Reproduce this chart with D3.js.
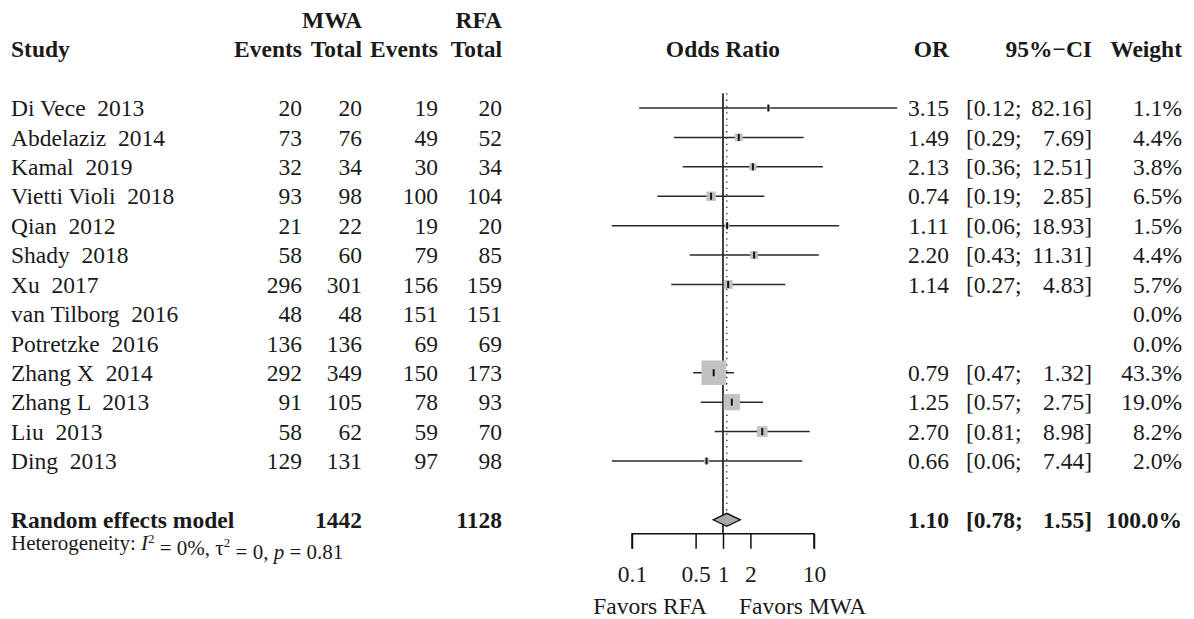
<!DOCTYPE html>
<html>
<head>
<meta charset="utf-8">
<script src="https://cdn.jsdelivr.net/npm/d3@7"></script>
<style>
  body { margin: 0; background: #fff; }
  svg text { font-family: "Liberation Serif", "Times New Roman", serif; fill: #1a1a1a; white-space: pre; }
</style>
</head>
<body>
<div id="chart"></div>
<script>
// --- data ---
const studies = ["Di Vece  2013", "Abdelaziz  2014", "Kamal  2019", "Vietti Violi  2018", "Qian  2012",
    "Shady  2018", "Xu  2017", "van Tilborg  2016", "Potretzke  2016", "Zhang X  2014",
    "Zhang L  2013", "Liu  2013", "Ding  2013"];
const mwaEvents = [20, 73, 32, 93, 21, 58, 296, 48, 136, 292, 91, 58, 129];
const mwaTotal = [20, 76, 34, 98, 22, 60, 301, 48, 136, 349, 105, 62, 131];
const rfaEvents = [19, 49, 30, 100, 19, 79, 156, 151, 69, 150, 78, 59, 97];
const rfaTotal = [20, 52, 34, 104, 20, 85, 159, 151, 69, 173, 93, 70, 98];
const oddsRatio = [3.15, 1.49, 2.13, 0.74, 1.11, 2.20, 1.14, null, null, 0.79, 1.25, 2.70, 0.66];
const ciLower = [0.12, 0.29, 0.36, 0.19, 0.06, 0.43, 0.27, null, null, 0.47, 0.57, 0.81, 0.06];
const ciUpper = [82.16, 7.69, 12.51, 2.85, 18.93, 11.31, 4.83, null, null, 1.32, 2.75, 8.98, 7.44];
const weights = [1.1, 4.4, 3.8, 6.5, 1.5, 4.4, 5.7, 0.0, 0.0, 43.3, 19.0, 8.2, 2.0];
const pooled = { or: 1.10, lower: 0.78, upper: 1.55, weight: 100.0, mwaTotal: 1442, rfaTotal: 1128 };
const axisTicks = [0.1, 0.5, 1, 2, 10];

const width = 1194, height = 619;
const fs = 23.5;

const svg = d3.select("#chart")
    .append("svg")
    .attr("width", width)
    .attr("height", height);

svg.append("rect").attr("width", width).attr("height", height).attr("fill", "#fff");

const x = d3.scaleLog().domain([0.1, 10]).range([632, 814]);
const y = d3.scaleLinear().domain([0, studies.length - 1]).range([108, 461]);
const step = y(1) - y(0);
const box = d3.scaleSqrt().domain([0, 43.3]).range([0, 24.5]);

// column anchors
const col = { study: 11, mwaE: 302, mwaT: 362, rfaE: 438, rfaT: 502, or: 949, ciL: 966, ciR: 1092, w: 1182 };

function txt(xp, yp, s, anchor, bold, size) {
    return svg.append("text")
        .attr("x", xp).attr("y", yp).attr("dy", "0.35em")
        .attr("text-anchor", anchor || "start")
        .attr("font-size", size || fs)
        .attr("font-weight", bold ? "bold" : "normal")
        .text(s);
}

// headers
const yHead2 = y(0) - 2 * step, yHead1 = y(0) - 3 * step;
txt(col.mwaT, yHead1, "MWA", "end", true);
txt(col.rfaT, yHead1, "RFA", "end", true);
txt(col.study, yHead2, "Study", "start", true);
txt(col.mwaE, yHead2, "Events", "end", true);
txt(col.mwaT, yHead2, "Total", "end", true);
txt(col.rfaE, yHead2, "Events", "end", true);
txt(col.rfaT, yHead2, "Total", "end", true);
txt(x(1), yHead2, "Odds Ratio", "middle", true);
txt(col.or, yHead2, "OR", "end", true);
txt(col.ciR, yHead2, "95%\u2212CI", "end", true);
txt(col.w, yHead2, "Weight", "end", true);

// study rows
studies.forEach((s, i) => {
    const yy = y(i);
    txt(col.study, yy, s);
    txt(col.mwaE, yy, mwaEvents[i], "end");
    txt(col.mwaT, yy, mwaTotal[i], "end");
    txt(col.rfaE, yy, rfaEvents[i], "end");
    txt(col.rfaT, yy, rfaTotal[i], "end");
    if (oddsRatio[i] != null) {
        txt(col.or, yy, oddsRatio[i].toFixed(2), "end");
        txt(col.ciL, yy, "[" + ciLower[i].toFixed(2) + ";", "start");
        txt(col.ciR, yy, ciUpper[i].toFixed(2) + "]", "end");
    }
    txt(col.w, yy, weights[i].toFixed(1) + "%", "end");
});

// summary row
const ySum = y(studies.length - 1) + 2 * step;
txt(col.study, ySum, "Random effects model", "start", true);
txt(col.mwaT, ySum, pooled.mwaTotal, "end", true);
txt(col.rfaT, ySum, pooled.rfaTotal, "end", true);
txt(col.or, ySum, pooled.or.toFixed(2), "end", true);
txt(col.ciL, ySum, "[" + pooled.lower.toFixed(2) + ";", "start", true);
txt(col.ciR, ySum, pooled.upper.toFixed(2) + "]", "end", true);
txt(col.w, ySum, pooled.weight.toFixed(1) + "%", "end", true);

// heterogeneity line
const het = txt(col.study, ySum + 23, "", "start", false, 21);
het.append("tspan").text("Heterogeneity: ");
het.append("tspan").attr("font-style", "italic").text("I");
het.append("tspan").attr("font-size", 13).attr("dy", "-0.55em").text("2");
het.append("tspan").attr("dy", "0.55em").text(" = 0%, \u03c4");
het.append("tspan").attr("font-size", 13).attr("dy", "-0.55em").text("2");
het.append("tspan").attr("dy", "0.55em").text(" = 0, ");
het.append("tspan").attr("font-style", "italic").text("p");
het.append("tspan").text(" = 0.81");

// reference lines
const yTop = y(0) - step / 2;
const yAxis = ySum + 14;
svg.append("line")
    .attr("x1", x(1)).attr("x2", x(1))
    .attr("y1", yTop).attr("y2", yAxis)
    .attr("stroke", "#111").attr("stroke-width", 1.6);
svg.append("line")
    .attr("x1", x(pooled.or)).attr("x2", x(pooled.or))
    .attr("y1", yTop).attr("y2", ySum - 7)
    .attr("stroke", "#222").attr("stroke-width", 1.3)
    .attr("stroke-dasharray", "1.3,5");

// confidence intervals, boxes and estimate ticks
const plotted = studies.map((s, i) => i).filter(i => oddsRatio[i] != null);
svg.selectAll(".ci")
    .data(plotted)
    .enter().append("line")
    .attr("class", "ci")
    .attr("x1", i => x(ciLower[i])).attr("x2", i => x(ciUpper[i]))
    .attr("y1", i => y(i)).attr("y2", i => y(i))
    .attr("stroke", "#2a2a2a").attr("stroke-width", 1.5);

svg.selectAll(".box")
    .data(plotted)
    .enter().append("rect")
    .attr("class", "box")
    .attr("x", i => x(oddsRatio[i]) - box(weights[i]) / 2)
    .attr("y", i => y(i) - box(weights[i]) / 2)
    .attr("width", i => box(weights[i]))
    .attr("height", i => box(weights[i]))
    .attr("fill", "#c2c2c2");

svg.selectAll(".est")
    .data(plotted)
    .enter().append("line")
    .attr("class", "est")
    .attr("x1", i => x(oddsRatio[i])).attr("x2", i => x(oddsRatio[i]))
    .attr("y1", i => y(i) - 3.5).attr("y2", i => y(i) + 3.5)
    .attr("stroke", "#111").attr("stroke-width", 2);

// pooled diamond
const dh = 6.5;
svg.append("path")
    .attr("d", `M${x(pooled.lower)},${ySum} L${x(pooled.or)},${ySum - dh} L${x(pooled.upper)},${ySum} L${x(pooled.or)},${ySum + dh} Z`)
    .attr("fill", "#a9a9a9").attr("stroke", "#111").attr("stroke-width", 1.3);

// axis
const axis = d3.axisBottom(x)
    .tickValues(axisTicks)
    .tickFormat(d => d)
    .tickSize(15)
    .tickPadding(16);
const gAxis = svg.append("g")
    .attr("transform", `translate(0,${yAxis})`)
    .call(axis);
gAxis.select(".domain").attr("stroke", "#111").attr("stroke-width", 1.5)
    .attr("d", `M${x(0.1)},15V0H${x(10)}V15`);
gAxis.selectAll(".tick line").attr("stroke", "#111").attr("stroke-width", 1.5);
gAxis.selectAll(".tick text")
    .attr("font-family", "Liberation Serif, Times New Roman, serif")
    .attr("font-size", fs).attr("fill", "#1a1a1a");

txt(x(1) - 16, yAxis + 72, "Favors RFA", "end");
txt(x(1) + 16, yAxis + 72, "Favors MWA", "start");
</script>
</body>
</html>
